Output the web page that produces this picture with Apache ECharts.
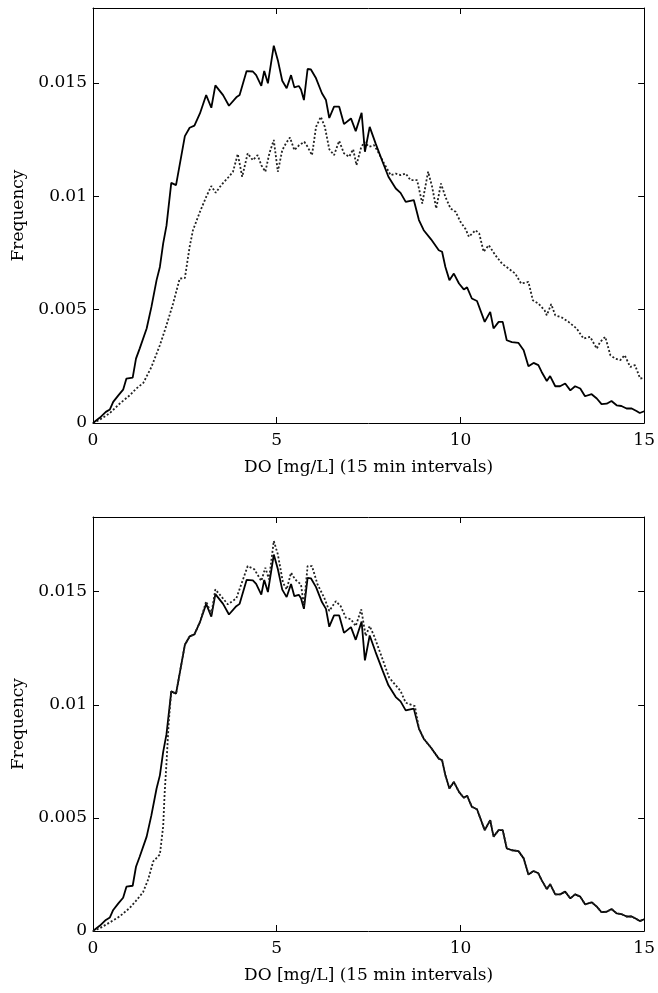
<!DOCTYPE html>
<html>
<head>
<meta charset="utf-8">
<script src="https://cdn.jsdelivr.net/npm/echarts@6/dist/echarts.min.js"></script>
<style>
html,body{margin:0;padding:0;background:#fff;}
#c{width:658px;height:993px;}
</style>
</head>
<body>
<div id="c"></div>
<script>
// ---- data ----
const xTicks = [0, 5, 10, 15];
const yTickLabels = ['0', '0.005', '0.01', '0.015'];

const solidX = [0,0.19,0.35,0.46,0.55,0.69,0.82,0.91,1.08,1.17,1.27,1.46,1.59,1.73,1.82,1.91,2.0,2.13,2.26,2.5,2.63,2.76,2.91,3.08,3.22,3.33,3.54,3.70,3.90,3.99,4.18,4.35,4.44,4.58,4.66,4.76,4.92,5.03,5.15,5.27,5.39,5.48,5.6,5.66,5.74,5.84,5.93,6.07,6.23,6.34,6.43,6.56,6.70,6.83,7.02,7.15,7.31,7.40,7.53,7.69,7.88,8.04,8.24,8.37,8.51,8.73,8.87,9.00,9.20,9.41,9.50,9.59,9.70,9.82,9.96,10.09,10.18,10.31,10.45,10.66,10.81,10.90,11.04,11.15,11.26,11.40,11.58,11.72,11.85,11.99,12.12,12.21,12.35,12.44,12.58,12.71,12.85,12.99,13.12,13.26,13.39,13.57,13.71,13.84,13.98,14.11,14.25,14.38,14.52,14.66,14.79,14.88,15.0];
const solidY = [0,0.00024,0.00049,0.0006,0.00093,0.00122,0.00147,0.00196,0.0020,0.00284,0.00328,0.00417,0.00512,0.0063,0.00688,0.00792,0.0087,0.01059,0.01049,0.01265,0.01302,0.01311,0.01365,0.01446,0.0139,0.01489,0.01446,0.01399,0.01436,0.01446,0.01552,0.0155,0.01534,0.01487,0.01552,0.01498,0.01664,0.016,0.01509,0.01476,0.01534,0.0148,0.01486,0.01471,0.01424,0.01561,0.01559,0.0152,0.01454,0.01424,0.01345,0.01395,0.01395,0.01318,0.01343,0.01287,0.01368,0.01196,0.01306,0.01233,0.01152,0.01086,0.01034,0.01015,0.00975,0.00983,0.00895,0.0085,0.0081,0.00762,0.00755,0.00688,0.0063,0.00659,0.00615,0.00589,0.00598,0.00549,0.00538,0.00446,0.0049,0.00417,0.00446,0.00446,0.00365,0.00357,0.00353,0.00321,0.0025,0.00265,0.00255,0.00225,0.00185,0.00207,0.00162,0.00162,0.00174,0.00144,0.00162,0.00152,0.00118,0.00127,0.00108,0.00083,0.00085,0.00097,0.00078,0.00075,0.00064,0.00064,0.00053,0.00044,0.00052];

const dottedTopX = [0,0.19,0.46,0.73,1.0,1.18,1.37,1.59,1.82,2.0,2.18,2.36,2.5,2.63,2.72,2.91,3.08,3.22,3.34,3.49,3.72,3.81,3.94,4.06,4.21,4.35,4.48,4.58,4.69,4.80,4.92,5.03,5.15,5.25,5.36,5.48,5.61,5.75,5.84,5.96,6.07,6.20,6.31,6.43,6.56,6.70,6.83,6.97,7.08,7.17,7.29,7.38,7.51,7.65,7.78,7.92,8.10,8.24,8.37,8.51,8.64,8.82,8.96,9.12,9.23,9.34,9.47,9.59,9.73,9.87,10.0,10.14,10.23,10.41,10.51,10.63,10.77,10.95,11.13,11.31,11.49,11.65,11.85,11.97,12.12,12.29,12.35,12.47,12.58,12.76,12.94,13.16,13.35,13.53,13.71,13.80,13.94,14.08,14.21,14.35,14.47,14.62,14.75,14.89,15.0];
const dottedTopY = [0,0.00015,0.00044,0.00086,0.00122,0.00152,0.00177,0.00247,0.00343,0.00431,0.00527,0.00637,0.00639,0.00777,0.0085,0.00931,0.00997,0.01045,0.01015,0.01049,0.0109,0.01108,0.01186,0.01086,0.01189,0.01159,0.01181,0.01137,0.01108,0.01189,0.01248,0.01108,0.01203,0.01233,0.01259,0.01203,0.01225,0.0124,0.01218,0.01181,0.01306,0.0135,0.01306,0.01207,0.01181,0.01244,0.01189,0.01174,0.01207,0.01137,0.01211,0.0124,0.01218,0.01225,0.01189,0.01145,0.01093,0.011,0.01093,0.011,0.01071,0.01071,0.00968,0.01108,0.01041,0.00946,0.01056,0.00997,0.00946,0.00931,0.00887,0.00855,0.00821,0.0085,0.00836,0.00755,0.00784,0.0074,0.00703,0.00681,0.00659,0.00615,0.00622,0.00541,0.00527,0.00497,0.00475,0.00524,0.00475,0.00465,0.00446,0.00417,0.00372,0.0038,0.00328,0.00357,0.0038,0.00299,0.00284,0.00277,0.00299,0.00247,0.00255,0.00196,0.002];

const dottedBotX = [0,0.19,0.46,0.73,1.0,1.18,1.36,1.50,1.64,1.82,1.91,1.95,2.0,2.06,2.13,2.26,2.5,2.63,2.76,2.91,3.08,3.22,3.33,3.67,3.90,4.21,4.39,4.58,4.69,4.79,4.92,5.03,5.17,5.27,5.39,5.5,5.66,5.74,5.84,5.96,6.11,6.29,6.43,6.61,6.74,6.88,7.02,7.15,7.30,7.42,7.53,7.65,7.88,8.06,8.37,8.51,8.76,8.87,9.00,9.20,9.41,9.50,9.59,9.70,9.82,9.96,10.09,10.18,10.31,10.45,10.66,10.81,10.90,11.04,11.15,11.26,11.40,11.58,11.72,11.85,11.99,12.12,12.21,12.35,12.44,12.58,12.71,12.85,12.99,13.12,13.26,13.39,13.57,13.71,13.84,13.98,14.11,14.25,14.38,14.52,14.66,14.79,14.88,15.0];
const dottedBotY = [0,0.00013,0.00038,0.00065,0.00102,0.00135,0.00171,0.00227,0.00308,0.00338,0.00463,0.0061,0.00743,0.0092,0.01059,0.01049,0.01265,0.01302,0.01311,0.01365,0.01457,0.014,0.0151,0.01444,0.0147,0.01613,0.01599,0.01547,0.01606,0.01554,0.01724,0.01665,0.0154,0.0151,0.01584,0.01554,0.01532,0.01436,0.01613,0.01613,0.01532,0.01474,0.01415,0.01458,0.01436,0.01385,0.01378,0.01348,0.01422,0.01304,0.01348,0.01304,0.01201,0.0112,0.01061,0.01009,0.00994,0.00895,0.0085,0.0081,0.00762,0.00755,0.00688,0.0063,0.00659,0.00615,0.00589,0.00598,0.00549,0.00538,0.00446,0.0049,0.00417,0.00446,0.00446,0.00365,0.00357,0.00353,0.00321,0.0025,0.00265,0.00255,0.00225,0.00185,0.00207,0.00162,0.00162,0.00174,0.00144,0.00162,0.00152,0.00118,0.00127,0.00108,0.00083,0.00085,0.00097,0.00078,0.00075,0.00064,0.00064,0.00053,0.00044,0.00052];

const xName = 'DO [mg/L] (15 min intervals)';
const yName = 'Frequency';

// ---- build ----
function zip(xs, ys){ return xs.map((x,i)=>[x, ys[i]]); }
const FONT = 'DejaVu Serif';
const Y_MAX = 0.0183;

function yLabel(v){
  const idx = Math.round(v / 0.005);
  if (Math.abs(v - idx*0.005) > 1e-9) return '';
  return yTickLabels[idx] !== undefined ? yTickLabels[idx] : '';
}

const grids = [
  {left: 93, top: 8, width: 553, height: 415},
  {left: 93, top: 517, width: 553, height: 414}
];

const xAxes = [], yAxes = [];
grids.forEach((g, gi) => {
  const common = {
    gridIndex: gi, type: 'value', min: 0, max: 15, interval: 5,
    axisLine: {show: true, onZero: false, lineStyle: {color: '#000', width: 1}},
    axisTick: {show: true, inside: true, length: 6, lineStyle: {color: '#000', width: 1}},
    splitLine: {show: false}
  };
  xAxes.push(Object.assign({}, common, {
    position: 'bottom',
    name: xName, nameLocation: 'middle', nameGap: 36,
    nameTextStyle: {fontFamily: FONT, fontSize: 17, color: '#000'},
    axisLabel: {show: true, margin: 9, fontFamily: FONT, fontSize: 17, color: '#000',
      formatter: v => (xTicks.indexOf(v) >= 0 ? String(v) : '')}
  }));
  xAxes.push(Object.assign({}, common, {position: 'top', axisLabel: {show: false}}));
  const ycommon = {
    gridIndex: gi, type: 'value', min: 0, max: Y_MAX, interval: 0.005,
    axisLine: {show: true, onZero: false, lineStyle: {color: '#000', width: 1}},
    axisTick: {show: true, inside: true, length: 6, lineStyle: {color: '#000', width: 1}},
    splitLine: {show: false}
  };
  yAxes.push(Object.assign({}, ycommon, {
    position: 'left',
    name: yName, nameLocation: 'middle', nameGap: 64, nameRotate: 90,
    nameTextStyle: {fontFamily: FONT, fontSize: 17, color: '#000'},
    axisLabel: {show: true, margin: 6, fontFamily: FONT, fontSize: 17, color: '#000',
      showMaxLabel: false, formatter: yLabel}
  }));
  yAxes.push(Object.assign({}, ycommon, {position: 'right', axisLabel: {show: false}}));
});

const solidStyle = {color: '#000', width: 1.8, type: 'solid'};
const dotStyle = {color: '#222', width: 1.8, type: [2, 2]};

function line(xi, yi, data, style, z){
  return {type: 'line', xAxisIndex: xi, yAxisIndex: yi, data: data,
    showSymbol: false, symbol: 'none', smooth: false, animation: false,
    lineStyle: style, z: z};
}

const option = {
  animation: false,
  backgroundColor: '#fff',
  grid: grids,
  xAxis: xAxes,
  yAxis: yAxes,
  series: [
    line(0, 0, zip(dottedTopX, dottedTopY), dotStyle, 2),
    line(0, 0, zip(solidX, solidY), solidStyle, 3),
    line(2, 2, zip(solidX, solidY), solidStyle, 2),
    line(2, 2, zip(dottedBotX, dottedBotY), dotStyle, 3)
  ]
};

const chart = echarts.init(document.getElementById('c'), null, {renderer: 'canvas'});
chart.setOption(option);
</script>
</body>
</html>
